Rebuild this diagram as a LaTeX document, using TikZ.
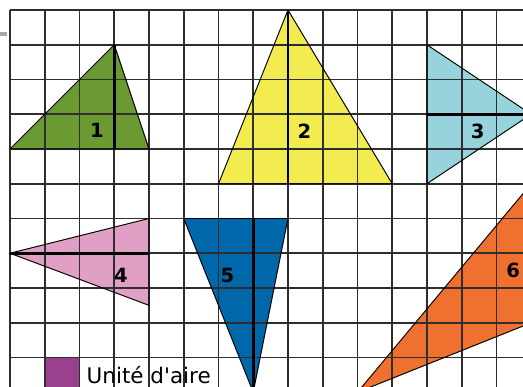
\documentclass[tikz,border=0pt]{standalone}
\usepackage{fontspec}
\setmainfont{DejaVu Sans}[Ligatures=TeXOff]
\definecolor{cgreen}{RGB}{107,154,51}
\definecolor{cyellow}{RGB}{243,236,80}
\definecolor{cblue}{RGB}{150,211,220}
\definecolor{cpink}{RGB}{224,160,197}
\definecolor{cdblue}{RGB}{0,104,170}
\definecolor{corange}{RGB}{240,112,48}
\definecolor{cpurple}{RGB}{155,64,140}
\begin{document}
\begin{tikzpicture}[x=1cm,y=-1cm,
  gridline/.style={line width=1.3pt,black!82},
  tri/.style={line width=0.8pt,draw=black,line join=miter},
  hline/.style={line width=2.4pt,black},
  num/.style={font=\fontsize{16}{19}\selectfont\bfseries,inner sep=0pt}]
\useasboundingbox (-0.2878,-0.2878) rectangle (14.763,10.849);
\begin{scope}
\clip (-0.2878,-0.2878) rectangle (14.763,10.849);
% fills
\fill[cgreen] (0,4) -- (3,1) -- (4,4) -- cycle;
\fill[cyellow] (6,5) -- (8,0) -- (11,5) -- cycle;
\fill[cblue] (12,1) -- (15,3) -- (12,5) -- cycle;
\fill[cpink] (0,7) -- (4,6) -- (4,8.5) -- cycle;
\fill[cdblue] (5,6) -- (8,6) -- (7,11) -- cycle;
\fill[corange] (10,11) -- (15,5) -- (15,9) -- cycle;
\fill[cpurple] (1,10) rectangle (2,11);
\fill[black!35] (-0.2878,0.642) rectangle (-0.095,0.748);
% grid
\draw[gridline] (0,0) grid (16,12);
% outlines
\draw[tri] (0,4) -- (3,1) -- (4,4) -- cycle;
\draw[tri] (6,5) -- (8,0) -- (11,5) -- cycle;
\draw[tri] (12,1) -- (15,3) -- (12,5) -- cycle;
\draw[tri] (0,7) -- (4,6) -- (4,8.5) -- cycle;
\draw[tri] (5,6) -- (8,6) -- (7,11) -- cycle;
\draw[tri] (10,11) -- (15,5) -- (15,9) -- cycle;
% heights
\draw[hline] (3,1) -- (3,4);
\draw[hline] (8,0) -- (8,5);
\draw[hline] (12,3) -- (15,3);
\draw[hline] (0,7) -- (4,7);
\draw[hline] (7,6) -- (7,11);
\end{scope}
% labels
\node[num] (l1) at (2.5,3.47) {1};
\node[num] (l2) at (8.47,3.5) {2};
\node[num] (l3) at (13.46,3.48) {3};
\node[num] (l4) at (3.19,7.65) {4};
\node[num] (l5) at (6.26,7.65) {5};
\node[num] (l6) at (14.48,7.48) {6};
\node[font=\fontsize{17.6}{20}\selectfont,inner sep=0pt,text depth=0pt,anchor=base west] (unit) at (2.2,10.74) {Unité d'aire};
\end{tikzpicture}
\end{document}
